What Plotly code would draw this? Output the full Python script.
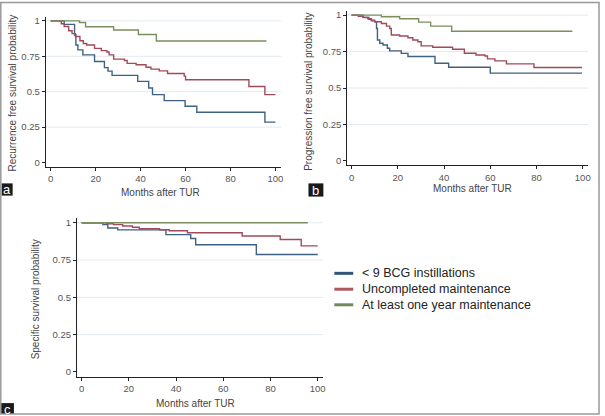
import plotly.graph_objects as go

W, H = 605, 416

# ---------------- data ----------------
groups = ["< 9 BCG instillations", "Uncompleted maintenance", "At least one year maintenance"]
x_ticks = [0, 20, 40, 60, 80, 100]
y_ticks = [0, 0.25, 0.5, 0.75, 1]
y_ticktext = ["0", "0.25", "0.5", "0.75", "1"]

# Panel a: recurrence free survival
a_blue_t = [0, 6, 10.6, 11.2, 12.1, 14.3, 19.5, 23.9, 25.5, 27.3, 38.7, 43.6, 45.3, 50.5, 59.8, 65, 95.3, 100]
a_blue_s = [1, 0.975, 0.9, 0.83, 0.795, 0.76, 0.713, 0.67, 0.645, 0.615, 0.573, 0.526, 0.479, 0.437, 0.397, 0.355, 0.285, 0.285]
a_red_t = [0, 4.7, 6, 8, 9.5, 11, 13, 14.5, 16, 19.5, 22.5, 25, 26, 28, 32.8, 34, 38, 42.4, 44.6, 48.3, 52, 59.4, 60, 88.2, 95.3, 100]
a_red_s = [1, 0.98, 0.96, 0.93, 0.91, 0.89, 0.86, 0.84, 0.83, 0.806, 0.79, 0.78, 0.76, 0.73, 0.72, 0.70, 0.69, 0.673, 0.659, 0.647, 0.628, 0.61, 0.584, 0.537, 0.479, 0.479]
a_green_t = [0, 12.8, 15.5, 28, 39, 47, 96]
a_green_s = [1, 0.988, 0.958, 0.935, 0.904, 0.858, 0.858]

# Panel b: progression free survival
b_blue_t = [0, 5, 7.5, 8.6, 10, 10.8, 11.2, 12.2, 13.6, 15.5, 16.5, 21.5, 24.4, 36.1, 42, 60, 99.7]
b_blue_s = [1, 0.985, 0.972, 0.961, 0.955, 0.909, 0.83, 0.807, 0.795, 0.773, 0.755, 0.738, 0.716, 0.67, 0.643, 0.602, 0.602]
b_red_t = [0, 2.9, 5, 7, 8.6, 10, 12.9, 15.1, 16.5, 17.2, 20.8, 24.4, 26.5, 28.7, 30.1, 35.1, 43.7, 48.8, 53.8, 57.7, 58.8, 62, 67, 78.9, 99.7]
b_red_s = [1, 0.993, 0.984, 0.975, 0.966, 0.955, 0.943, 0.925, 0.909, 0.864, 0.857, 0.845, 0.83, 0.818, 0.789, 0.78, 0.766, 0.739, 0.727, 0.72, 0.70, 0.686, 0.666, 0.641, 0.641]
b_green_t = [0, 12.9, 20.8, 29, 34.2, 43.3, 95.5]
b_green_s = [1, 0.989, 0.975, 0.952, 0.925, 0.89, 0.89]

# Panel c: specific survival
c_blue_t = [0, 9, 11.1, 15.3, 35.7, 46.2, 48.3, 74, 100]
c_blue_s = [1, 0.987, 0.965, 0.952, 0.92, 0.894, 0.852, 0.787, 0.787]
c_red_t = [0, 10.5, 13.5, 17.4, 21.5, 24.4, 33, 37.1, 44.8, 68, 84.1, 93, 100]
c_red_s = [1, 0.993, 0.987, 0.978, 0.97, 0.96, 0.953, 0.946, 0.933, 0.911, 0.887, 0.845, 0.845]
c_green_t = [0, 95.8]
c_green_s = [1, 1]

panels = [
    dict(name="a", ytitle="Recurrence free survival probability",
         series=[(a_blue_t, a_blue_s), (a_red_t, a_red_s), (a_green_t, a_green_s)]),
    dict(name="b", ytitle="Progression free survival probability",
         series=[(b_blue_t, b_blue_s), (b_red_t, b_red_s), (b_green_t, b_green_s)]),
    dict(name="c", ytitle="Specific survival probability",
         series=[(c_blue_t, c_blue_s), (c_red_t, c_red_s), (c_green_t, c_green_s)]),
]
x_title = "Months after TUR"

# ---------------- styling / layout ----------------
line_colors = ["#3f6183", "#a04b5a", "#7a8f5e"]
legend_colors = ["#2f5878", "#b0585f", "#6f8a58"]
FONT = "Liberation Sans"


def PX(x):
    return x / W


def PY(y):
    return 1 - y / H


geom = [
    dict(xd=(46, 282.7), yd=(15.0, 165.7), xr=[-2.2, 102.6], yr=[-0.028, 1.028],
         yt=(12.3, 92), xt=(161.7, 192), box=(1.7, 12.7, 182.7, 195)),
    dict(xd=(349, 591), yd=(9.0, 164.3), xr=[-1.85, 102.3], yr=[-0.029, 1.029],
         yt=(310, 90), xt=(475, 187.5), box=(310, 325, 182.7, 196)),
    dict(xd=(77.3, 325), yd=(217.8, 377.3), xr=[-2.0, 102.4], yr=[-0.031, 1.03],
         yt=(35.7, 300), xt=(196.7, 404), box=(0.5, 14, 404, 415)),
]

fig = go.Figure()
shapes = []
annotations = []
layout_axes = {}

for i, (p, g) in enumerate(zip(panels, geom)):
    n = "" if i == 0 else str(i + 1)
    xa, ya = "x" + n, "y" + n
    for (t, s), col in zip(p["series"], line_colors):
        fig.add_trace(go.Scatter(x=t, y=s, mode="lines", line=dict(color=col, width=1.4, shape="hv"),
                                 xaxis=xa, yaxis=ya, showlegend=False, hoverinfo="skip"))
    common = dict(showline=True, linecolor="#222", linewidth=1, ticks="outside", ticklen=3,
                  tickcolor="#222", tickwidth=1, showgrid=False, zeroline=False,
                  tickfont=dict(family=FONT, size=9.5, color="#555"))
    layout_axes["xaxis" + n] = dict(common, domain=[PX(g["xd"][0]), PX(g["xd"][1])], range=g["xr"],
                                    tickvals=x_ticks, ticktext=[str(v) for v in x_ticks], anchor=ya)
    layout_axes["yaxis" + n] = dict(common, domain=[PY(g["yd"][1]), PY(g["yd"][0])], range=g["yr"],
                                    tickvals=y_ticks, ticktext=y_ticktext, anchor=xa)
    for v in y_ticks[1:]:
        shapes.append(dict(type="line", xref=xa + " domain", yref=ya, x0=0, x1=1, y0=v, y1=v,
                           line=dict(color="#e2eaef", width=1), layer="below"))
    annotations.append(dict(text=p["ytitle"], x=PX(g["yt"][0]), y=PY(g["yt"][1]), xref="paper", yref="paper",
                            textangle=-90, showarrow=False, xanchor="center", yanchor="middle",
                            font=dict(family=FONT, size=10, color="#444")))
    annotations.append(dict(text=x_title, x=PX(g["xt"][0]), y=PY(g["xt"][1]), xref="paper", yref="paper",
                            showarrow=False, xanchor="center", yanchor="middle",
                            font=dict(family=FONT, size=10, color="#444")))
    bx0, bx1, by0, by1 = g["box"]
    shapes.append(dict(type="rect", xref="paper", yref="paper", x0=PX(bx0), x1=PX(bx1), y0=PY(by1), y1=PY(by0),
                       fillcolor="#1a1a1a", line=dict(width=0)))
    annotations.append(dict(text=p["name"], x=PX((bx0 + bx1) / 2), y=PY((by0 + by1) / 2 + 0.5),
                            xref="paper", yref="paper", showarrow=False, xanchor="center", yanchor="middle",
                            font=dict(family=FONT, size=13, color="white")))

# legend (drawn as shapes + text)
leg_rows = [273.3, 289.3, 305]
for lbl, col, yy in zip(groups, legend_colors, leg_rows):
    shapes.append(dict(type="line", xref="paper", yref="paper", x0=PX(336), x1=PX(355), y0=PY(yy), y1=PY(yy),
                       line=dict(color=col, width=3)))
    annotations.append(dict(text=lbl, x=PX(361.7), y=PY(yy), xref="paper", yref="paper", showarrow=False,
                            xanchor="left", yanchor="middle", font=dict(family=FONT, size=12.5, color="#222")))

# outer frame
shapes.append(dict(type="rect", xref="paper", yref="paper", x0=PX(0.8), x1=PX(602), y0=PY(415), y1=PY(0.5),
                   line=dict(color="#999", width=1.5), fillcolor="rgba(0,0,0,0)"))

fig.update_layout(width=W, height=H, margin=dict(l=0, r=0, t=0, b=0), paper_bgcolor="white",
                  plot_bgcolor="white", showlegend=False, shapes=shapes, annotations=annotations,
                  **layout_axes)

fig.write_html("out.html", config={"displayModeBar": False},
               post_script="document.body.style.margin='0';document.body.style.overflow='hidden';")
